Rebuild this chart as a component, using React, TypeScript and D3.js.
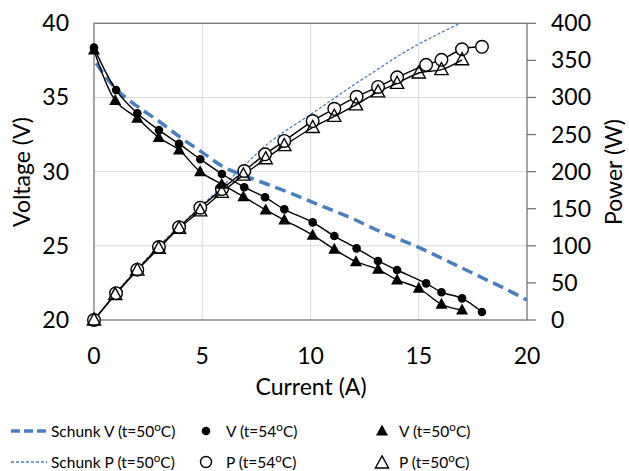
import React from 'react';
import * as d3 from 'd3';

// measured data (current in A)
const v54Current = [0, 1.02, 2.0, 3.0, 3.93, 4.91, 5.91, 6.94, 7.9, 8.79, 10.1, 11.1, 12.13, 13.12, 14.0, 15.34, 16.05, 17.0, 17.92];
const v54Voltage = [38.36, 35.5, 33.94, 32.8, 31.87, 30.84, 29.84, 28.95, 28.27, 27.46, 26.58, 25.66, 24.83, 23.98, 23.37, 22.47, 21.87, 21.46, 20.54];
const p54Power = [0, 36.2, 67.9, 98.4, 125.2, 151.4, 176.4, 200.9, 223.3, 241.4, 268.2, 284.7, 301, 314.2, 327.1, 344, 350.7, 365, 368.3];

const v50Current = [0, 0.98, 2.0, 2.99, 3.93, 4.9, 5.9, 6.9, 7.93, 8.79, 10.1, 11.1, 12.1, 13.12, 14.0, 15.0, 16.05, 17.0];
const v50Voltage = [38.2, 34.79, 33.6, 32.3, 31.46, 30.0, 29.15, 28.31, 27.42, 26.74, 25.72, 24.77, 23.93, 23.42, 22.7, 22.14, 21.06, 20.67];
const p50Power = [0, 34.1, 67.2, 96.6, 123.6, 147, 172, 195.3, 217.4, 235, 259.5, 274.5, 290, 307.5, 319, 333, 337.5, 350.8];

// Schunk model curves
const schunkVCurrent = [0.1, 1, 2, 3, 4, 5, 6, 7, 8, 9, 10, 11, 12, 13, 14, 15, 16, 17, 18, 19, 20];
const schunkVVoltage = [37.3, 35.6, 34.4, 33.4, 32.3, 31.3, 30.3, 29.7, 29.15, 28.6, 28.0, 27.4, 26.8, 26.1, 25.5, 24.9, 24.2, 23.5, 22.8, 22.1, 21.35];
const schunkPCurrent = [0, 1, 2, 3, 4, 5, 6, 7, 8, 9, 10, 11, 12, 13, 14, 15, 16, 16.9];
const schunkPPower = [0, 36, 69, 100, 128, 155, 182, 210, 237, 258, 277, 297, 317, 336, 355, 372, 387, 400];

const xTicks = [0, 5, 10, 15, 20];
const vTicks = [20, 25, 30, 35, 40];
const pTicks = [0, 50, 100, 150, 200, 250, 300, 350, 400];

const FONT = 'Lato, "Open Sans", sans-serif';
const BLUE = '#4a7ec2';

const zip = (a: number[], b: number[]) => a.map((d, i) => [d, b[i]] as [number, number]);

const Deg = ({ t }: { t: string }) => (
  <>
    {t}
    <tspan dy={-6} fontSize="0.75em">o</tspan>
    <tspan dy={6}>C)</tspan>
  </>
);

const App = () => {
  const x = d3.scaleLinear().domain([0, 20]).range([94, 527]);
  const yV = d3.scaleLinear().domain([20, 40]).range([320, 23.3]);
  const yP = d3.scaleLinear().domain([0, 400]).range([320, 23.3]);

  const lineV = d3.line<[number, number]>().x(d => x(d[0])).y(d => yV(d[1])).curve(d3.curveCatmullRom);
  const lineP = d3.line<[number, number]>().x(d => x(d[0])).y(d => yP(d[1])).curve(d3.curveCatmullRom);

  const v54 = zip(v54Current, v54Voltage);
  const p54 = zip(v54Current, p54Power);
  const v50 = zip(v50Current, v50Voltage);
  const p50 = zip(v50Current, p50Power);

  const tri = (cx: number, cy: number, s: number) =>
    `M${cx},${cy - s * 0.65}L${cx + s * 0.6},${cy + s * 0.45}L${cx - s * 0.6},${cy + s * 0.45}Z`;

  return (
    <svg width={629} height={471} style={{ position: 'absolute', left: 0, top: 0, background: '#fff' }} fontFamily={FONT}>
      {/* grid */}
      {xTicks.slice(1, -1).map(t => (
        <line key={'gx' + t} x1={x(t)} x2={x(t)} y1={yV(20)} y2={yV(40)} stroke="#d9d9d9" />
      ))}
      {vTicks.slice(1, -1).map(t => (
        <line key={'gy' + t} x1={x(0)} x2={x(20)} y1={yV(t)} y2={yV(t)} stroke="#d9d9d9" />
      ))}
      <rect x={x(0)} y={yV(40)} width={x(20) - x(0)} height={yV(20) - yV(40)} fill="none" stroke="#767676" strokeWidth={1.3} />
      {pTicks.map(t => (
        <line key={'pt' + t} x1={x(20)} x2={x(20) + 9} y1={yP(t)} y2={yP(t)} stroke="#767676" strokeWidth={1.3} />
      ))}

      {/* tick labels */}
      {xTicks.map(t => (
        <text key={'xl' + t} x={x(t)} y={364} textAnchor="middle" fontSize={23}>{t}</text>
      ))}
      {vTicks.map(t => (
        <text key={'vl' + t} x={69} y={yV(t) + 8} textAnchor="end" fontSize={23}>{t}</text>
      ))}
      {pTicks.map(t => (
        <text key={'pl' + t} x={551} y={yP(t) + 8} fontSize={23}>{t}</text>
      ))}

      <text x={311} y={395} textAnchor="middle" fontSize={23}>Current (A)</text>
      <text transform="translate(30,172) rotate(-90)" textAnchor="middle" fontSize={23}>Voltage (V)</text>
      <text transform="translate(622,172) rotate(-90)" textAnchor="middle" fontSize={23}>Power (W)</text>

      {/* Schunk model */}
      <path d={lineP(zip(schunkPCurrent, schunkPPower)) || ''} fill="none" stroke={BLUE} strokeWidth={1.3} strokeDasharray="3 2" />
      <path d={lineV(zip(schunkVCurrent, schunkVVoltage)) || ''} fill="none" stroke={BLUE} strokeWidth={3.5} strokeDasharray="11 6" />

      {/* measured lines */}
      {[lineV(v54), lineV(v50), lineP(p54), lineP(p50)].map((d, i) => (
        <path key={'l' + i} d={d || ''} fill="none" stroke="#000" strokeWidth={1.4} />
      ))}

      {/* markers */}
      {p54.map((d, i) => (
        <circle key={'pc' + i} cx={x(d[0])} cy={yP(d[1])} r={6.3} fill="#fff" stroke="#000" strokeWidth={1.4} />
      ))}
      {p50.map((d, i) => (
        <path key={'pt' + i} d={tri(x(d[0]), yP(d[1]), 11)} fill="none" stroke="#000" strokeWidth={1.4} />
      ))}
      {v54.map((d, i) => (
        <circle key={'vc' + i} cx={x(d[0])} cy={yV(d[1])} r={4.3} fill="#000" />
      ))}
      {v50.map((d, i) => (
        <path key={'vt' + i} d={tri(x(d[0]), yV(d[1]), 10)} fill="#000" />
      ))}

      {/* legend */}
      <g fontSize={15.5}>
        <line x1={11} x2={47} y1={431} y2={431} stroke={BLUE} strokeWidth={3.5} strokeDasharray="9 4" />
        <text x={51} y={437}><Deg t="Schunk V (t=50" /></text>
        <line x1={11} x2={47} y1={462} y2={462} stroke={BLUE} strokeWidth={1.3} strokeDasharray="3 2" />
        <text x={51} y={468}><Deg t="Schunk P (t=50" /></text>

        <circle cx={206} cy={431} r={4.3} fill="#000" />
        <text x={226} y={437}><Deg t="V (t=54" /></text>
        <circle cx={206} cy={462} r={5.5} fill="#fff" stroke="#000" strokeWidth={1.4} />
        <text x={226} y={468}><Deg t="P (t=54" /></text>

        <path d={tri(382, 431, 10)} fill="#000" />
        <text x={399} y={437}><Deg t="V (t=50" /></text>
        <path d={tri(382, 463, 11)} fill="none" stroke="#000" strokeWidth={1.4} />
        <text x={399} y={468}><Deg t="P (t=50" /></text>
      </g>
    </svg>
  );
};

export default App;
